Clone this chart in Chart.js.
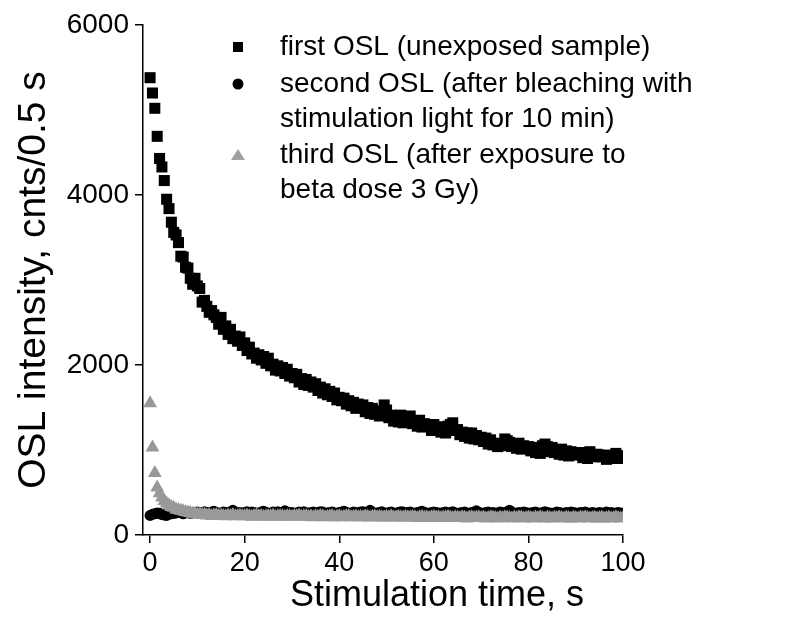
<!DOCTYPE html>
<html>
<head>
<meta charset="utf-8">
<script src="https://cdn.jsdelivr.net/npm/chart.js@4.4.0/dist/chart.umd.min.js"></script>
<style>
  html, body { margin: 0; padding: 0; background: #fff; }
  #wrap { width: 802px; height: 638px; }
</style>
</head>
<body>
<div id="wrap"><canvas id="oslChart" width="802" height="638"></canvas></div>
<script>
// sampling interval of the reader (cnts per 0.5 s channel)
const STEP = 0.5;

const xTicks = [0, 20, 40, 60, 80, 100];
const yTicks = [0, 2000, 4000, 6000];

const seriesNames = [
    'first OSL (unexposed sample)',
    'second OSL (after bleaching with stimulation light for 10 min)',
    'third OSL (after exposure to beta dose 3 Gy)'
];

// first OSL, unexposed sample
const firstOSL = [
    5380, 5200, 5020, 4690, 4430, 4330, 4170, 3950, 3840, 3680,
    3560, 3530, 3440, 3280, 3270, 3150, 3140, 3020, 2950, 3020,
    2930, 2900, 2740, 2760, 2690, 2620, 2640, 2590, 2560, 2480,
    2560, 2420, 2460, 2360, 2420, 2310, 2340, 2280, 2330, 2230,
    2260, 2170, 2210, 2130, 2140, 2080, 2120, 2060, 2100, 2020,
    2080, 1990, 2010, 1940, 1990, 1930, 1970, 1900, 1950, 1870,
    1900, 1850, 1890, 1800, 1840, 1770, 1830, 1760, 1800, 1740,
    1780, 1700, 1740, 1670, 1720, 1650, 1690, 1630, 1670, 1590,
    1620, 1580, 1610, 1540, 1580, 1520, 1560, 1490, 1540, 1500,
    1530, 1450, 1500, 1430, 1490, 1420, 1460, 1400, 1450, 1530,
    1470, 1380, 1410, 1340, 1400, 1330, 1410, 1320, 1360, 1350,
    1400, 1310, 1340, 1280, 1350, 1270, 1310, 1290, 1280, 1230,
    1300, 1240, 1270, 1210, 1270, 1200, 1280, 1300, 1320, 1230,
    1240, 1180, 1210, 1160, 1200, 1140, 1200, 1130, 1170, 1120,
    1150, 1100, 1140, 1070, 1120, 1060, 1070, 1040, 1080, 1050,
    1130, 1110, 1090, 1040, 1070, 1020, 1080, 1010, 1050, 1020,
    1040, 990, 1030, 970, 1030, 960, 1050, 1070, 1040, 980,
    1030, 970, 1000, 950, 1010, 940, 990, 930, 980, 970,
    970, 940, 960, 910, 970, 900, 980, 930, 920, 950,
    940, 920, 930, 890, 940, 920, 900, 960, 930, 900,
    930
];

// second OSL, after bleaching
const secondOSL = [
    230, 245, 250, 260, 255, 240, 235, 230, 245, 250,
    255, 260, 270, 265, 250, 260, 275, 255, 260, 265,
    270, 260, 255, 275, 265, 260, 270, 280, 265, 255,
    260, 270, 265, 255, 275, 290, 270, 260, 265, 255,
    265, 275, 260, 270, 265, 255, 260, 270, 280, 265,
    260, 255, 270, 265, 275, 260, 265, 285, 270, 260,
    265, 255, 260, 270, 265, 275, 260, 255, 265, 270,
    260, 265, 275, 270, 255, 260, 265, 270, 260, 255,
    265, 270, 280, 265, 260, 255, 270, 265, 260, 270,
    275, 260, 265, 290, 270, 255, 260, 265, 275, 260,
    255, 265, 270, 260, 255, 265, 275, 270, 260, 265,
    270, 260, 255, 265, 270, 280, 265, 260, 255, 265,
    270, 265, 260, 255, 265, 270, 260, 265, 275, 260,
    255, 260, 265, 270, 260, 255, 265, 270, 285, 265,
    260, 255, 265, 270, 260, 265, 255, 260, 270, 265,
    260, 275, 290, 270, 260, 255, 265, 260, 270, 265,
    255, 260, 265, 270, 260, 255, 265, 275, 265, 260,
    255, 260, 270, 265, 260, 255, 265, 260, 270, 265,
    260, 255, 265, 260, 270, 260, 255, 265, 260, 255,
    265, 260, 255, 270, 260, 265, 255, 260, 265, 260,
    255
];

// third OSL, after 3 Gy beta dose
const thirdOSL = [
    1550, 1030, 730, 560, 490, 440, 400, 370, 350, 330,
    320, 300, 295, 285, 280, 270, 265, 260, 250, 250,
    245, 240, 235, 240, 230, 235, 225, 230, 235, 225,
    230, 225, 220, 230, 225, 235, 220, 225, 230, 220,
    225, 230, 220, 215, 225, 230, 220, 225, 215, 220,
    225, 220, 230, 215, 220, 225, 220, 215, 225, 220,
    215, 225, 220, 230, 215, 220, 225, 215, 220, 210,
    220, 215, 225, 220, 210, 215, 220, 225, 210, 215,
    220, 210, 215, 220, 225, 210, 215, 220, 210, 215,
    210, 220, 215, 205, 215, 220, 210, 215, 205, 210,
    215, 210, 220, 205, 210, 215, 210, 205, 215, 210,
    205, 215, 210, 200, 210, 215, 205, 210, 200, 210,
    215, 205, 210, 200, 205, 210, 215, 205, 200, 210,
    205, 200, 210, 205, 195, 205, 210, 200, 205, 210,
    200, 205, 195, 200, 210, 205, 200, 195, 205, 200,
    210, 205, 200, 195, 205, 200, 210, 205, 195, 200,
    205, 200, 195, 205, 200, 210, 200, 195, 205, 200,
    195, 205, 200, 210, 200, 195, 205, 200, 195, 205,
    200, 195, 205, 200, 210, 200, 195, 200, 205, 195,
    200, 205, 195, 200, 205, 195, 200, 210, 200, 195,
    200
];

const FONT = "'Liberation Sans', Arial, sans-serif";

function toPoints(values) {
    return values.map((v, i) => ({ x: i * STEP, y: v }));
}

// legend drawn by hand: two labels wrap over two lines
const legendPlugin = {
    id: 'oslLegend',
    afterDraw(chart) {
        const ctx = chart.ctx;
        const mx = 238, tx = 280;
        const rows = [
            { y: 47, mark: 'rect', text: 'first OSL (unexposed sample)' },
            { y: 84, mark: 'circle', text: 'second OSL (after bleaching with' },
            { y: 119, mark: null, text: 'stimulation light for 10 min)' },
            { y: 155, mark: 'triangle', text: 'third OSL (after exposure to' },
            { y: 190, mark: null, text: 'beta dose 3 Gy)' }
        ];
        ctx.save();
        ctx.font = '28px ' + FONT;
        ctx.textBaseline = 'middle';
        ctx.textAlign = 'left';
        rows.forEach(r => {
            if (r.mark === 'rect') {
                ctx.fillStyle = '#000';
                ctx.fillRect(mx - 5, r.y - 5, 10, 10);
            } else if (r.mark === 'circle') {
                ctx.fillStyle = '#000';
                ctx.beginPath();
                ctx.arc(mx, r.y, 5.5, 0, Math.PI * 2);
                ctx.fill();
            } else if (r.mark === 'triangle') {
                ctx.fillStyle = '#a0a0a0';
                ctx.beginPath();
                ctx.moveTo(mx, r.y - 6);
                ctx.lineTo(mx + 7, r.y + 5);
                ctx.lineTo(mx - 7, r.y + 5);
                ctx.closePath();
                ctx.fill();
            }
            ctx.fillStyle = '#000';
            ctx.fillText(r.text, tx, r.y);
        });
        // x axis title, set off to the right like the original
        ctx.font = '36px ' + FONT;
        ctx.textAlign = 'center';
        ctx.fillText('Stimulation time, s', 437, 596);
        ctx.restore();
    }
};

const ctx = document.getElementById('oslChart').getContext('2d');

new Chart(ctx, {
    type: 'scatter',
    data: {
        datasets: [
            {
                label: seriesNames[2],
                data: toPoints(thirdOSL),
                pointStyle: 'triangle',
                pointRadius: 8,
                backgroundColor: '#999999',
                borderColor: '#999999',
                borderWidth: 0,
                order: 1
            },
            {
                label: seriesNames[1],
                data: toPoints(secondOSL),
                pointStyle: 'circle',
                pointRadius: 5.5,
                backgroundColor: '#000',
                borderColor: '#000',
                borderWidth: 0,
                order: 2
            },
            {
                label: seriesNames[0],
                data: toPoints(firstOSL),
                pointStyle: 'rect',
                pointRadius: 7.8,
                backgroundColor: '#000',
                borderColor: '#000',
                borderWidth: 0,
                order: 3
            }
        ]
    },
    options: {
        responsive: false,
        animation: false,
        events: [],
        layout: { padding: { top: 25, right: 179, left: 0, bottom: 0 } },
        plugins: {
            legend: { display: false },
            tooltip: { enabled: false }
        },
        scales: {
            x: {
                type: 'linear',
                min: -1.5,
                max: 100,
                afterBuildTicks: s => { s.ticks = xTicks.map(v => ({ value: v })); },
                afterFit: s => { s.height = 103; },
                grid: { drawOnChartArea: false, tickLength: 8, color: '#000', lineWidth: 1.5 },
                border: { color: '#000', width: 1.5 },
                ticks: { color: '#000', font: { family: FONT, size: 27 }, padding: 4, maxRotation: 0,
                         callback: v => String(v) }
            },
            y: {
                min: 0,
                max: 6000,
                afterBuildTicks: s => { s.ticks = yTicks.map(v => ({ value: v })); },
                afterFit: s => { s.width = 143; },
                grid: { drawOnChartArea: false, tickLength: 8, color: '#000', lineWidth: 1.5 },
                border: { color: '#000', width: 1.5 },
                ticks: { color: '#000', font: { family: FONT, size: 28 }, padding: 6,
                         callback: v => String(v) },
                title: {
                    display: true,
                    text: 'OSL intensity, cnts/0.5 s',
                    color: '#000',
                    font: { family: FONT, size: 39 },
                    padding: { top: 11, bottom: 0 }
                }
            }
        }
    },
    plugins: [legendPlugin]
});
</script>
</body>
</html>
